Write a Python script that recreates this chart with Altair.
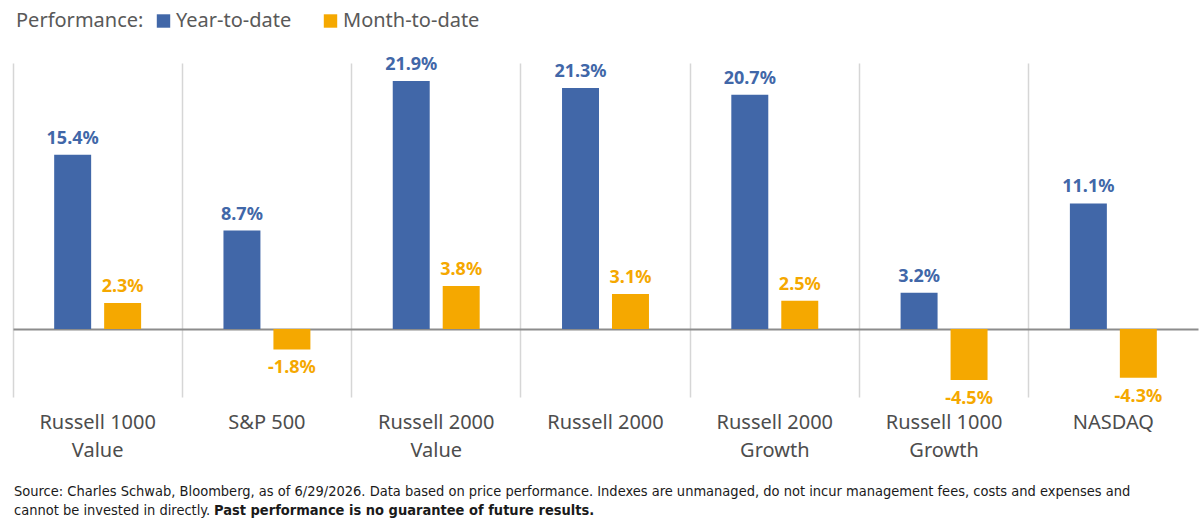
import altair as alt
import pandas as pd

categories = ["Russell 1000\nValue", "S&P 500", "Russell 2000\nValue", "Russell 2000",
              "Russell 2000\nGrowth", "Russell 1000\nGrowth", "NASDAQ"]
series = ["Year-to-date", "Month-to-date"]
ytd = [15.4, 8.7, 21.9, 21.3, 20.7, 3.2, 11.1]
mtd = [2.3, -1.8, 3.8, 3.1, 2.5, -4.5, -4.3]

legend_title = "Performance:"
footer1 = ("Source: Charles Schwab, Bloomberg, as of 6/29/2026. Data based on price performance. "
           "Indexes are unmanaged, do not incur management fees, costs and expenses and")
footer2a = "cannot be invested in directly."
footer2b = "Past performance is no guarantee of future results."

BLUE = "#4167A8"
ORANGE = "#F5A800"
COLORS = [BLUE, ORANGE]
FONT = "Noto Sans"
FOOT_FONT = "Liberation Sans Narrow, Arial Narrow, DejaVu Sans Condensed, sans-serif"
TXT = "#4d4d4d"

rows = []
for c, a, b in zip(categories, ytd, mtd):
    rows.append({"cat": c, "series": series[0], "val": a})
    rows.append({"cat": c, "series": series[1], "val": b})
df = pd.DataFrame(rows)
df["txt"] = df["val"].map(lambda v: f"{v:.1f}%")
df_pos = df[df["val"] >= 0].reset_index(drop=True)
df_neg = df[df["val"] < 0].reset_index(drop=True)

W, H = 1185, 334

xs = alt.Scale(domain=categories, paddingInner=0, paddingOuter=0)
x_axis = alt.Axis(title=None, domain=False, ticks=False, grid=True, bandPosition=0,
                  gridColor="#d6d6d6", gridWidth=1.5,
                  labelFontSize=20, labelColor=TXT, labelFont=FONT, labelAngle=0,
                  labelPadding=15, labelBaseline="top", labelLineHeight=28,
                  labelExpr="split(datum.label, '\\n')")
x = alt.X("cat:N", scale=xs, axis=x_axis)
x_plain = alt.X("cat:N", scale=xs)
xo = alt.XOffset("series:N", scale=alt.Scale(domain=series, paddingInner=0.26, paddingOuter=0.824))
y_axis = alt.Axis(title=None, values=[0], grid=True, gridColor="#8c8c8c", gridWidth=2,
                  labels=False, ticks=False, domain=False)
y = alt.Y("val:Q", scale=alt.Scale(domain=[-6, 23.5], nice=False, zero=False), axis=y_axis)
y_plain = alt.Y("val:Q")
cscale = alt.Scale(domain=series, range=COLORS)
color = alt.Color("series:N", scale=cscale, legend=None)

bars = alt.Chart(df).mark_bar().encode(x=x, xOffset=xo, y=y, color=color)
pos = alt.Chart(df_pos).mark_text(
    baseline="bottom", dy=-7, fontSize=18, fontWeight="bold", font=FONT).encode(
    x=x_plain, xOffset=xo, y=y_plain, text="txt:N", color=color)
neg = alt.Chart(df_neg).mark_text(
    baseline="top", dy=10, fontSize=18, fontWeight="bold", font=FONT).encode(
    x=x_plain, xOffset=xo, y=y_plain, text="txt:N", color=color)

layers = [bars, pos, neg]

# legend (top-left)
ldf = pd.DataFrame({"t": [legend_title]})
layers.append(alt.Chart(ldf).mark_text(align="left", baseline="middle", fontSize=20,
                                       font=FONT, color="#595959").encode(
    x=alt.value(3), y=alt.value(-42), text="t:N"))
for s, col, sx in zip(series, COLORS, [150.5, 317.5]):
    sdf = pd.DataFrame({"t": [s]})
    layers.append(alt.Chart(sdf).mark_square(size=180, color=col, opacity=1).encode(
        x=alt.value(sx), y=alt.value(-42)))
    layers.append(alt.Chart(sdf).mark_text(align="left", baseline="middle", fontSize=20,
                                           font=FONT, color="#595959").encode(
        x=alt.value(sx + 12.5), y=alt.value(-42), text="t:N"))

# footer
fdf1 = pd.DataFrame({"t": [footer1]})
fdf2 = pd.DataFrame({"t": [footer2a]})
fdf3 = pd.DataFrame({"t": [footer2b]})
layers.append(alt.Chart(fdf1).mark_text(align="left", baseline="middle", fontSize=14.5,
                                        font=FOOT_FONT, color="#1a1a1a").encode(
    x=alt.value(1), y=alt.value(429), text="t:N"))
layers.append(alt.Chart(fdf2).mark_text(align="left", baseline="middle", fontSize=14.5,
                                        font=FOOT_FONT, color="#1a1a1a").encode(
    x=alt.value(1), y=alt.value(448), text="t:N"))
layers.append(alt.Chart(fdf3).mark_text(align="left", baseline="middle", fontSize=14.5,
                                        font=FOOT_FONT, fontWeight="bold", color="#1a1a1a").encode(
    x=alt.value(201), y=alt.value(448), text="t:N"))

chart = alt.layer(*layers).properties(
    width=W, height=H,
    autosize=alt.AutoSizeParams(type="none"),
    padding={"left": 13, "top": 63, "right": 2, "bottom": 132},
).configure_view(strokeWidth=0)

chart.save("out.html", embed_options={"renderer": "svg", "actions": False})
